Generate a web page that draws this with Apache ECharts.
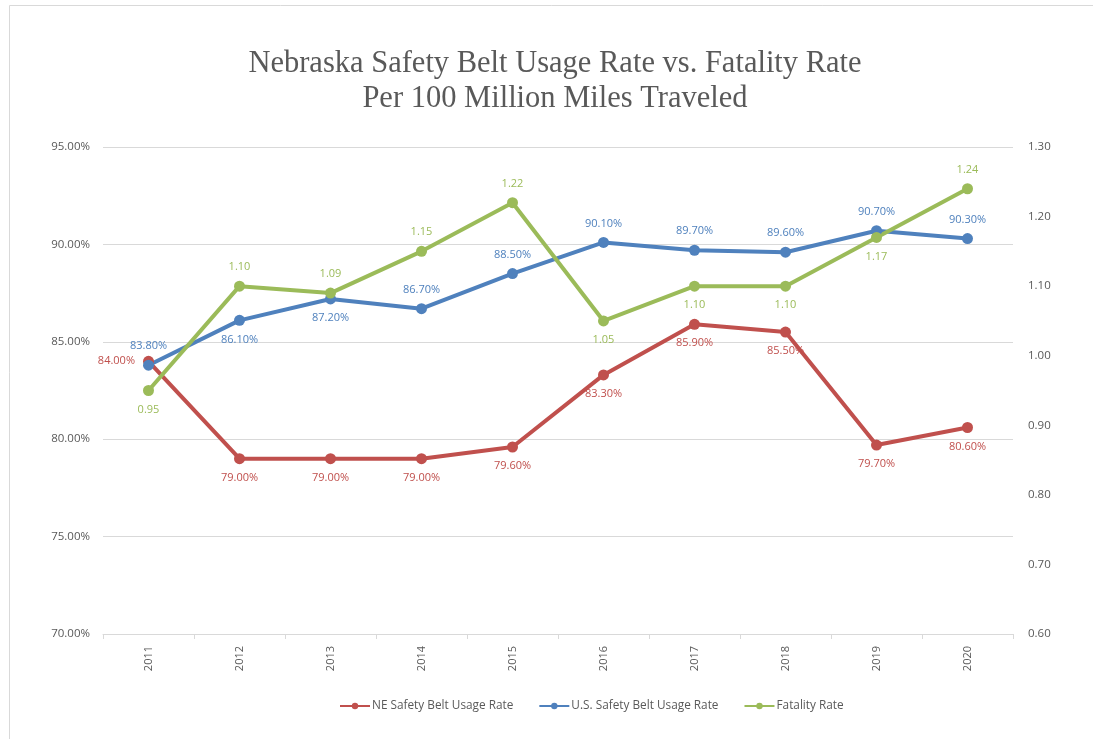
<!DOCTYPE html>
<html><head><meta charset="utf-8">
<script src="https://cdn.jsdelivr.net/npm/echarts@6/dist/echarts.min.js"></script>
<style>html,body{margin:0;padding:0;background:#fff}#c{width:1093px;height:739px}</style>
</head><body><div id="c"></div>
<script>
const years = ['2011','2012','2013','2014','2015','2016','2017','2018','2019','2020'];
const neRate = [84.0, 79.0, 79.0, 79.0, 79.6, 83.3, 85.9, 85.5, 79.7, 80.6];
const usRate = [83.8, 86.1, 87.2, 86.7, 88.5, 90.1, 89.7, 89.6, 90.7, 90.3];
const fatality = [0.95, 1.10, 1.09, 1.15, 1.22, 1.05, 1.10, 1.10, 1.17, 1.24];
const leftTicks = {min: 70, max: 95, interval: 5};
const rightTicks = {min: 0.6, max: 1.3, interval: 0.1};
const neLabelPos = ['left','bottom','bottom','bottom','bottom','bottom','bottom','bottom','bottom','bottom'];
const usLabelPos = ['top','bottom','bottom','top','top','top','top','top','top','top'];
const fatLabelPos = ['bottom','top','top','top','top','bottom','bottom','bottom','bottom','top'];

const txt = '#595959';
const lblFont = 'Open Sans';
function mk(vals, pos) {
  return vals.map((v, i) => ({value: v, label: {position: pos[i]}}));
}
const chart = echarts.init(document.getElementById('c'));
chart.setOption({
  animation: false,
  backgroundColor: '#fff',
  graphic: [{type: 'rect', shape: {x: 9.5, y: 5.5, width: 1100, height: 760}, style: {fill: 'none', stroke: '#d9d9d9', lineWidth: 1}}],
  title: {
    text: 'Nebraska Safety Belt Usage Rate vs. Fatality Rate\nPer 100 Million Miles Traveled',
    left: 550, top: 41, textAlign: 'center',
    textStyle: {fontFamily: 'Liberation Serif', fontSize: 30.5, fontWeight: 'normal', color: txt, lineHeight: 35}
  },
  legend: {
    bottom: 22, left: 334, itemGap: 25, itemWidth: 30, itemHeight: 8,
    textStyle: {fontFamily: lblFont, fontSize: 11.8, color: txt, padding: [0, 0, 0, -3]},
    data: ['NE Safety Belt Usage Rate', 'U.S. Safety Belt Usage Rate', 'Fatality Rate']
  },
  grid: {left: 103, right: 80, top: 147, bottom: 105},
  xAxis: {
    type: 'category', data: years, boundaryGap: true,
    axisLine: {lineStyle: {color: '#d9d9d9'}},
    axisTick: {show: true, alignWithLabel: false, lineStyle: {color: '#d9d9d9'}},
    axisLabel: {rotate: 90, color: txt, fontFamily: lblFont, fontSize: 11, margin: 12}
  },
  yAxis: [{
    type: 'value', min: leftTicks.min, max: leftTicks.max, interval: leftTicks.interval,
    axisLine: {show: false}, axisTick: {show: false},
    splitLine: {lineStyle: {color: '#d9d9d9'}},
    axisLabel: {color: txt, fontFamily: lblFont, fontSize: 11.5, margin: 13, formatter: v => v.toFixed(2) + '%'}
  }, {
    type: 'value', min: rightTicks.min, max: rightTicks.max, interval: rightTicks.interval,
    axisLine: {show: false}, axisTick: {show: false}, splitLine: {show: false},
    axisLabel: {color: txt, fontFamily: lblFont, fontSize: 11.5, margin: 15, formatter: v => v.toFixed(2)}
  }],
  series: [{
    name: 'NE Safety Belt Usage Rate', type: 'line', yAxisIndex: 0,
    data: mk(neRate, neLabelPos), color: '#c0504d',
    symbol: 'circle', symbolSize: 11, lineStyle: {width: 4},
    label: {show: true, color: '#c0504d', fontFamily: lblFont, fontSize: 11, distance: 8, formatter: p => p.value.toFixed(2) + '%'}
  }, {
    name: 'U.S. Safety Belt Usage Rate', type: 'line', yAxisIndex: 0,
    data: mk(usRate, usLabelPos), color: '#4f81bd',
    symbol: 'circle', symbolSize: 11, lineStyle: {width: 4},
    label: {show: true, color: '#4f81bd', fontFamily: lblFont, fontSize: 11, distance: 8, formatter: p => p.value.toFixed(2) + '%'}
  }, {
    name: 'Fatality Rate', type: 'line', yAxisIndex: 1,
    data: mk(fatality, fatLabelPos), color: '#9bbb59',
    symbol: 'circle', symbolSize: 11, lineStyle: {width: 4},
    label: {show: true, color: '#9bbb59', fontFamily: lblFont, fontSize: 11, distance: 8, formatter: p => p.value.toFixed(2)}
  }]
});
</script></body></html>
